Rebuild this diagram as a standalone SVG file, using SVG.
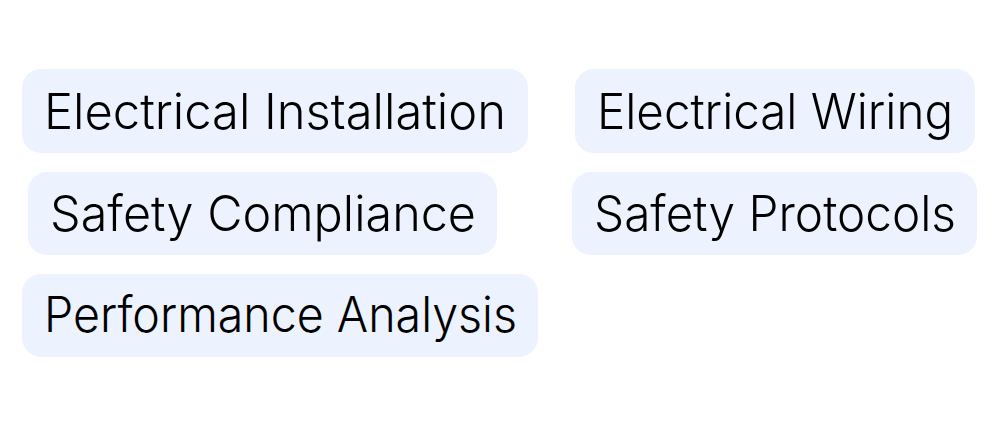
<svg xmlns="http://www.w3.org/2000/svg" width="1000" height="430" viewBox="0 0 1000 430">
<style>
.box{fill:#ecf2fe}
.lbl{font-family:Inter,"Noto Sans","Liberation Sans",sans-serif;font-size:49px;fill:#000;font-weight:300}
</style>
<rect width="1000" height="430" fill="#fff"/>
<g id="n1"><rect class="box" x="22" y="69" width="506" height="84" rx="19"/><text class="lbl" x="44" y="129" textLength="462" lengthAdjust="spacingAndGlyphs">Electrical Installation</text></g>
<g id="n2"><rect class="box" x="575" y="69" width="400" height="84" rx="19"/><text class="lbl" x="597" y="129" textLength="356" lengthAdjust="spacingAndGlyphs">Electrical Wiring</text></g>
<g id="n3"><rect class="box" x="28" y="172" width="469" height="83" rx="19"/><text class="lbl" x="50" y="231" textLength="426" lengthAdjust="spacingAndGlyphs">Safety Compliance</text></g>
<g id="n4"><rect class="box" x="572" y="172" width="405" height="83" rx="19"/><text class="lbl" x="594" y="231" textLength="362" lengthAdjust="spacingAndGlyphs">Safety Protocols</text></g>
<g id="n5"><rect class="box" x="22" y="274" width="516" height="83" rx="19"/><text class="lbl" x="44" y="332" textLength="473" lengthAdjust="spacingAndGlyphs">Performance Analysis</text></g>
<g id="connectors"></g>
</svg>
